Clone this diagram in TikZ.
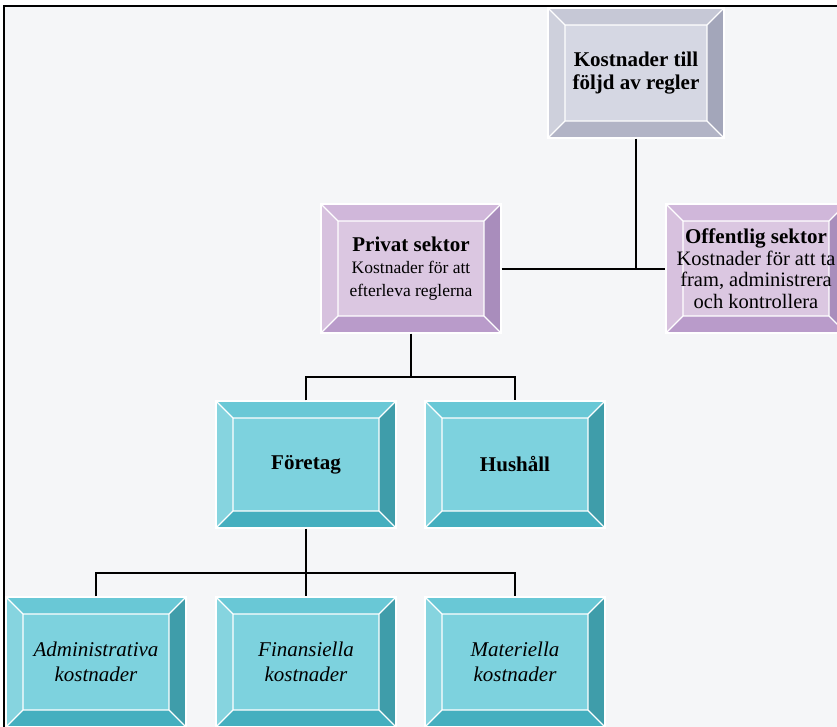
\documentclass[tikz,border=0pt]{standalone}
\usepackage{fontspec}
\setmainfont{Liberation Serif}

\definecolor{bgcolor}{HTML}{F5F6F8}
\definecolor{greyface}{HTML}{D5D7E3}
\definecolor{greytop}{HTML}{C6C8D6}
\definecolor{greyleft}{HTML}{CED0DC}
\definecolor{greyright}{HTML}{A3A6BA}
\definecolor{greybottom}{HTML}{B2B4C6}
\definecolor{purpleface}{HTML}{DBC7E1}
\definecolor{purpletop}{HTML}{D0B7DA}
\definecolor{purpleleft}{HTML}{D7C1DE}
\definecolor{purpleright}{HTML}{A98DBC}
\definecolor{purplebottom}{HTML}{B99BCA}
\definecolor{tealface}{HTML}{7DD2DE}
\definecolor{tealtop}{HTML}{69C8D6}
\definecolor{tealleft}{HTML}{86D4DF}
\definecolor{tealright}{HTML}{3F9DAA}
\definecolor{tealbottom}{HTML}{45AFBF}

\tikzset{%
  bevel box/.style={
    rectangle, draw=white, line width=1.2pt, fill=#1face,
    minimum width=180pt, minimum height=128pt, inner sep=0pt, align=center,
    path picture={
      \coordinate (o-nw) at (path picture bounding box.north west);
      \coordinate (o-ne) at (path picture bounding box.north east);
      \coordinate (o-sw) at (path picture bounding box.south west);
      \coordinate (o-se) at (path picture bounding box.south east);
      \coordinate (i-nw) at ([xshift=17pt,yshift=-17pt]path picture bounding box.north west);
      \coordinate (i-ne) at ([xshift=-17pt,yshift=-17pt]path picture bounding box.north east);
      \coordinate (i-sw) at ([xshift=17pt,yshift=17pt]path picture bounding box.south west);
      \coordinate (i-se) at ([xshift=-17pt,yshift=17pt]path picture bounding box.south east);
      \fill[#1top] (o-nw) -- (o-ne) -- (i-ne) -- (i-nw) -- cycle;
      \fill[#1left] (o-nw) -- (o-sw) -- (i-sw) -- (i-nw) -- cycle;
      \fill[#1right] (o-ne) -- (o-se) -- (i-se) -- (i-ne) -- cycle;
      \fill[#1bottom] (o-sw) -- (o-se) -- (i-se) -- (i-sw) -- cycle;
      \draw[white, line width=1.2pt] (i-nw) rectangle (i-se)
        (o-nw) -- (i-nw) (o-ne) -- (i-ne) (o-sw) -- (i-sw) (o-se) -- (i-se);
    }
  },
  connector/.style={draw=black, line width=2pt},
}

\begin{document}
\begin{tikzpicture}[x=1pt, y=-1pt]
  \useasboundingbox (0,0) rectangle (837,727);
  \fill[white] (0,0) rectangle (837,727);
  \fill[bgcolor] (4,6) rectangle (837,727);
  \draw[line width=2.5pt] (4,727) -- (4,6) -- (837,6);

  % top level
  \node [bevel box=grey, minimum width=176pt, minimum height=130pt,
    font=\fontsize{21}{23}\selectfont\bfseries] (cost) at (636,73)
    {Kostnader till\\följd av regler};

  % sectors
  \node [bevel box=purple, minimum height=129pt,
    font=\fontsize{17.5}{22.5}\selectfont] (private) at (411,268.5)
    {{\fontsize{21}{23}\selectfont\bfseries Privat sektor}\\Kostnader för att\\efterleva reglerna};
  \node [bevel box=purple, minimum height=129pt,
    font=\fontsize{20.5}{21.5}\selectfont] (public) at (756,268.5)
    {{\fontsize{21}{23}\selectfont\bfseries Offentlig sektor}\\Kostnader för att ta\\fram, administrera\\och kontrollera};

  % private sector
  \node [bevel box=teal, minimum height=127pt,
    font=\fontsize{21}{23}\selectfont\bfseries] (firm) at (306,464.5) {Företag};
  \node [bevel box=teal, minimum height=127pt,
    font=\fontsize{21}{23}\selectfont\bfseries] (household) at (515,464.5) {Hushåll};

  % kinds of costs
  \foreach \n/\x/\t in {admin/96/Administrativa, financial/306/Finansiella, material/515/Materiella}
  {
    \node [bevel box=teal, minimum height=130pt,
      font=\fontsize{21}{25}\selectfont\itshape] (\n) at (\x,662) {\t\\kostnader};
  }

  % connectors
  \draw [connector] (private.east) -- (public.west);
  \draw [connector] (cost.south) -- (cost.south |- public.west);

  \coordinate (private-split) at (411,377);
  \draw [connector] (private.south) -- (private-split);
  \draw [connector] (firm.north) |- (private-split) -| (household.north);

  \coordinate (firm-split) at (306,573);
  \draw [connector] (firm.south) -- (financial.north);
  \draw [connector] (admin.north) |- (firm-split) -| (material.north);
\end{tikzpicture}
\end{document}
